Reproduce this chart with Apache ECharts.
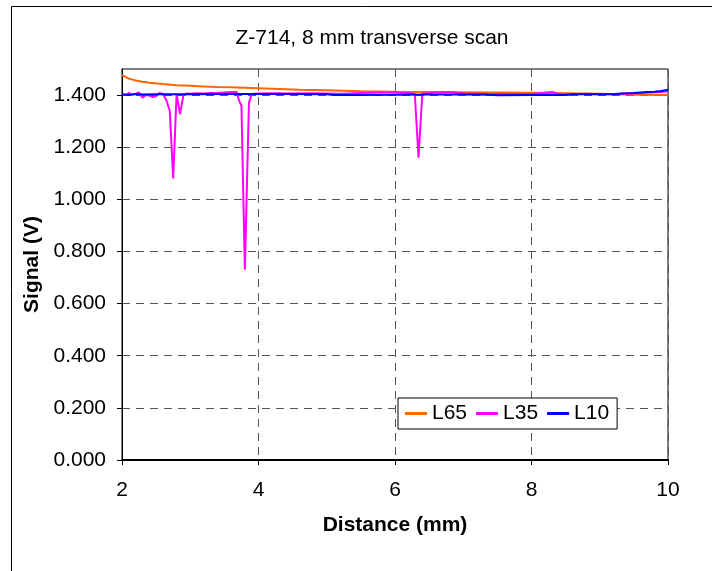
<!DOCTYPE html>
<html>
<head>
<meta charset="utf-8">
<script src="https://cdn.jsdelivr.net/npm/echarts@6/dist/echarts.min.js"></script>
<style>
  html, body { margin: 0; padding: 0; background: #fff; }
  #main { width: 712px; height: 571px; }
</style>
</head>
<body>
<div id="main"></div>
<script>
var dom = document.getElementById("main");
var myChart = echarts.init(dom, null, {renderer: 'canvas'});

// distance (mm) and signal (V) for each trace
var l65X = [2.00, 2.05, 2.10, 2.20, 2.30, 2.40, 2.60, 2.80, 3.00, 3.20, 3.40, 3.60, 3.80, 4.00, 4.30, 4.60, 5.00, 5.50, 6.00, 6.50, 7.00, 7.50, 8.00, 8.50, 9.00, 9.30, 9.50, 10.00];
var l65Y = [1.477, 1.470, 1.463, 1.456, 1.451, 1.447, 1.442, 1.438, 1.436, 1.433, 1.431, 1.430, 1.428, 1.426, 1.423, 1.420, 1.418, 1.415, 1.413, 1.412, 1.411, 1.410, 1.409, 1.407, 1.405, 1.403, 1.401, 1.400];

var l35X = [2.00, 2.05, 2.10, 2.15, 2.20, 2.25, 2.30, 2.35, 2.40, 2.45, 2.50, 2.55, 2.60, 2.65, 2.70, 2.75, 2.80, 2.85, 2.90, 2.95, 3.00, 3.10, 3.20, 3.30, 3.40, 3.50, 3.60, 3.68, 3.72, 3.75, 3.80, 3.86, 3.90, 4.00, 4.20, 4.50, 4.80, 5.00, 5.20, 5.50, 5.80, 6.00, 6.20, 6.29, 6.345, 6.40, 6.60, 6.80, 7.00, 7.30, 7.60, 8.00, 8.30, 8.40, 8.60, 8.80, 9.00, 9.30, 9.60, 9.90, 10.00];
var l35Y = [1.404, 1.400, 1.408, 1.402, 1.405, 1.410, 1.390, 1.400, 1.398, 1.392, 1.396, 1.408, 1.404, 1.380, 1.340, 1.080, 1.405, 1.327, 1.400, 1.406, 1.405, 1.407, 1.406, 1.408, 1.408, 1.410, 1.412, 1.412, 1.375, 1.360, 0.730, 1.370, 1.404, 1.406, 1.407, 1.406, 1.407, 1.406, 1.405, 1.408, 1.410, 1.410, 1.408, 1.405, 1.160, 1.405, 1.410, 1.412, 1.406, 1.404, 1.404, 1.404, 1.412, 1.405, 1.402, 1.405, 1.403, 1.404, 1.408, 1.412, 1.415];

var l10X = [2.00, 2.10, 2.20, 2.30, 2.50, 3.00, 3.50, 4.00, 4.50, 5.00, 5.10, 5.50, 6.00, 6.50, 7.00, 7.40, 7.50, 8.00, 8.50, 8.60, 9.00, 9.20, 9.30, 9.50, 9.70, 9.80, 9.90, 10.00];
var l10Y = [1.403, 1.400, 1.404, 1.402, 1.403, 1.403, 1.404, 1.404, 1.404, 1.403, 1.400, 1.400, 1.401, 1.402, 1.402, 1.401, 1.399, 1.400, 1.400, 1.403, 1.403, 1.403, 1.406, 1.408, 1.412, 1.413, 1.416, 1.420];

var yTicks = [0, 0.2, 0.4, 0.6, 0.8, 1.0, 1.2, 1.4];

function pairs(xs, ys) {
    return xs.map(function (x, i) { return [x, ys[i]]; });
}

var FS = 21;
var option;

option = {
    backgroundColor: '#fff',
    animation: false,
    textStyle: {
        fontFamily: 'Liberation Sans, Arial, sans-serif',
        color: '#000'
    },
    title: {
        text: 'Z-714, 8 mm transverse scan',
        left: 367,
        top: 23,
        textAlign: 'center',
        textStyle: {
            fontSize: FS,
            fontWeight: 'normal',
            color: '#000'
        }
    },
    graphic: [{
        type: 'rect',
        shape: {x: 11.5, y: 6.5, width: 720, height: 600},
        style: {fill: null, stroke: '#000', lineWidth: 1},
        silent: true,
        z: -1
    }],
    grid: {
        left: 122,
        top: 69,
        right: 44,
        bottom: 111,
        show: true,
        borderColor: '#000',
        borderWidth: 1,
        backgroundColor: '#fff'
    },
    legend: {
        data: ['L65', 'L35', 'L10'],
        left: 398,
        top: 398,
        orient: 'horizontal',
        backgroundColor: '#fff',
        borderColor: '#000',
        borderWidth: 1,
        padding: [5, 8, 5, 7],
        itemGap: 9,
        itemWidth: 22,
        itemHeight: 3,
        icon: 'rect',
        textStyle: {fontSize: FS, color: '#000'}
    },
    xAxis: {
        type: 'value',
        min: 2,
        max: 10,
        interval: 2,
        name: 'Distance (mm)',
        nameLocation: 'middle',
        nameGap: 55,
        nameTextStyle: {fontSize: FS, fontWeight: 'bold', color: '#000'},
        axisLine: {show: true, onZero: false, lineStyle: {color: '#000', width: 2}},
        axisTick: {show: true, length: 5, lineStyle: {color: '#000'}},
        axisLabel: {fontSize: FS, color: '#000', margin: 20},
        splitLine: {show: true, lineStyle: {color: '#555', type: [8, 6], width: 1}}
    },
    yAxis: {
        type: 'value',
        min: 0,
        max: 1.5,
        interval: 0.2,
        name: 'Signal (V)',
        nameLocation: 'middle',
        nameGap: 79,
        nameTextStyle: {fontSize: FS, fontWeight: 'bold', color: '#000'},
        axisLine: {show: true, lineStyle: {color: '#000', width: 1}},
        axisTick: {show: true, length: 5, lineStyle: {color: '#000'},
            customValues: yTicks},
        axisLabel: {
            fontSize: FS,
            color: '#000',
            margin: 16,
            customValues: yTicks,
            formatter: function (v) { return v.toFixed(3); }
        },
        splitLine: {show: true, lineStyle: {color: '#555', type: [8, 6], width: 1}}
    },
    series: [
        {
            name: 'L65',
            type: 'line',
            data: pairs(l65X, l65Y),
            showSymbol: false,
            color: '#FF6600',
            lineStyle: {width: 2}
        },
        {
            name: 'L35',
            type: 'line',
            data: pairs(l35X, l35Y),
            showSymbol: false,
            color: '#FF00FF',
            lineStyle: {width: 2}
        },
        {
            name: 'L10',
            type: 'line',
            data: pairs(l10X, l10Y),
            showSymbol: false,
            color: '#0000FF',
            lineStyle: {width: 2}
        }
    ]
};

if (option && typeof option === 'object') {
    myChart.setOption(option);
}
</script>
</body>
</html>
